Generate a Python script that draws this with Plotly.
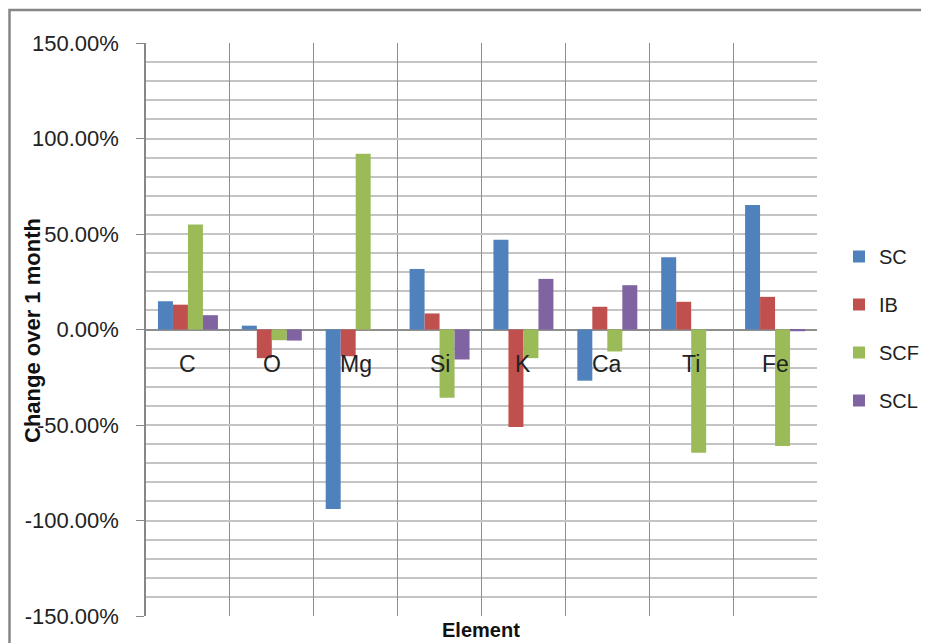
import plotly.graph_objects as go

elements = ["C", "O", "Mg", "Si", "K", "Ca", "Ti", "Fe"]
series_names = ["SC", "IB", "SCF", "SCL"]
sc = [0.148, 0.020, -0.940, 0.317, 0.470, -0.268, 0.378, 0.652]
ib = [0.130, -0.150, -0.140, 0.084, -0.510, 0.119, 0.145, 0.171]
scf = [0.550, -0.056, 0.920, -0.357, -0.150, -0.115, -0.645, -0.610]
scl = [0.075, -0.058, 0.000, -0.157, 0.265, 0.232, 0.000, -0.009]
y_ticks = [-1.5, -1.0, -0.5, 0.0, 0.5, 1.0, 1.5]
y_ticktext = [f"{v * 100:.2f}%" for v in y_ticks]

colors = ["#4F81BD", "#C0504D", "#9BBB59", "#8064A2"]
FONT = "Liberation Sans"

# page body has an 8px margin; work in screen pixels and convert
OFF = 8
W, H = 921, 635
L, R, T, B = 146 - OFF, W - (817 - OFF), 43 - OFF, H - (616 - OFF)
pw, ph = W - L - R, H - T - B


def px_x(p):  # screen px -> paper
    return (p - OFF - L) / pw


def px_y(p):
    return (H - B - (p - OFF)) / ph


fig = go.Figure()
for name, vals, col in zip(series_names, [sc, ib, scf, scl], colors):
    fig.add_trace(go.Bar(
        x=elements, y=vals, name=name, legendgroup=name,
        marker=dict(color=col, line=dict(width=0)),
    ))

# category labels just below the zero line
for el in elements:
    fig.add_annotation(x=el, y=0, xref="x", yref="y", text=el, showarrow=False,
                       yshift=-34, yanchor="middle",
                       font=dict(family=FONT, size=23, color="#222222"))

fig.add_annotation(x=px_x(481), y=px_y(630), xref="paper", yref="paper",
                   text="<b>Element</b>", showarrow=False, yanchor="middle",
                   font=dict(family=FONT, size=20, color="#111111"))
fig.add_annotation(x=px_x(32), y=px_y(330), xref="paper", yref="paper",
                   text="<b>Change over 1 month</b>", showarrow=False, textangle=-90,
                   xanchor="center", yanchor="middle",
                   font=dict(family=FONT, size=22, color="#111111"))

# outer chart border
fig.add_shape(type="rect", xref="paper", yref="paper",
              x0=px_x(9.5), x1=px_x(960), y0=px_y(680), y1=px_y(10),
              line=dict(color="#868686", width=2.5), layer="below")

fig.update_layout(
    width=W, height=H,
    margin=dict(l=L, r=R, t=T, b=B, autoexpand=False),
    paper_bgcolor="white", plot_bgcolor="white",
    barmode="group", bargap=0.285, bargroupgap=0.0,
    font=dict(family=FONT, size=20, color="#222222"),
    showlegend=True,
    legend=dict(x=px_x(839), y=px_y(237), xanchor="left", yanchor="top",
                traceorder="grouped", tracegroupgap=19,
                font=dict(family=FONT, size=20, color="#222222"),
                bgcolor="rgba(0,0,0,0)"),
    xaxis=dict(type="category", tickson="boundaries", showticklabels=False,
               ticks="", showgrid=True, gridcolor="#8f8f8f", gridwidth=1,
               showline=False, zeroline=False, range=[-0.5, 7.5]),
    yaxis=dict(range=[-1.5, 1.5], tickvals=y_ticks, ticktext=y_ticktext,
               showgrid=True, gridcolor="#c4c4c4", gridwidth=1.5,
               minor=dict(dtick=0.1, showgrid=True, gridcolor="#c4c4c4", gridwidth=1.5),
               ticks="outside", ticklen=8, tickcolor="#868686",
               ticklabelstandoff=13,
               showline=True, linecolor="#868686", linewidth=1.5,
               zeroline=True, zerolinecolor="#8f8f8f", zerolinewidth=1.5,
               tickfont=dict(family=FONT, size=22, color="#222222")),
)

fig.write_html("out.html")
